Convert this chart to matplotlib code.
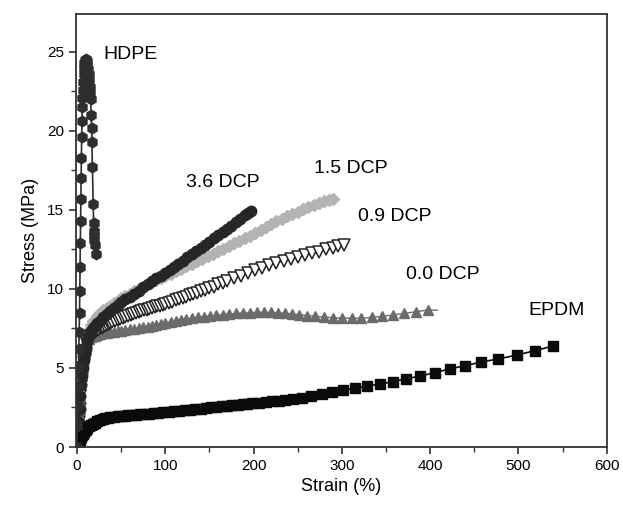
import matplotlib
matplotlib.use("Agg")
import matplotlib.pyplot as plt
from matplotlib.ticker import MultipleLocator

plt.rcParams['font.family'] = ['Liberation Sans', 'DejaVu Sans']

# HDPE (strain %, stress MPa)
hdpe_x = [0, 0.5, 1, 1.4, 1.8, 2.2, 2.6, 3.0, 3.3, 3.6, 3.9, 4.2, 4.5, 4.8, 5.1, 5.4, 5.7,
          6.0, 6.3, 6.6, 7.0, 7.5, 8.0, 8.6, 9.3, 10.0, 10.7, 11.4, 12.0, 12.6, 13.2, 13.8,
          14.4, 15.0, 15.6, 16.2, 16.6, 17.0, 17.6, 18.4, 19.0, 19.3, 19.6, 19.9, 20.3, 21.5]
hdpe_y = [0, 1.3, 2.6, 3.8, 5.0, 6.2, 7.3, 8.5, 9.9, 11.4, 12.9, 14.3, 15.7, 17.0, 18.3, 19.6, 20.6,
          21.5, 22.1, 22.6, 23.1, 23.6, 24.0, 24.3, 24.5, 24.55, 24.5, 24.4, 24.2, 23.9, 23.6, 23.2,
          22.8, 22.4, 22.0, 21.0, 20.2, 19.3, 17.7, 15.4, 14.2, 13.7, 13.4, 13.1, 12.8, 12.2]

# 3.6 DCP
dcp36_x = [0, 1, 2, 3, 4, 5, 6, 7, 8, 9, 10, 12, 14, 16, 18, 20, 23, 26, 30, 34, 38, 42, 46, 50,
           55, 60, 65, 70, 75, 80, 85, 90, 95, 100, 105, 110, 115, 120, 125, 130, 135, 140, 145,
           150, 155, 160, 165, 170, 175, 180, 185, 190, 194, 197]
dcp36_y = [0, 0.8, 1.6, 2.4, 3.2, 3.9, 4.5, 5.0, 5.5, 5.9, 6.2, 6.7, 7.0, 7.3, 7.5, 7.65, 7.85, 8.0,
           8.2, 8.4, 8.6, 8.8, 9.0, 9.15, 9.35, 9.5, 9.7, 9.9, 10.1, 10.3, 10.5, 10.7, 10.85, 11.0,
           11.2, 11.4, 11.6, 11.8, 12.0, 12.2, 12.4, 12.6, 12.8, 13.0, 13.2, 13.4, 13.6, 13.8, 14.0,
           14.25, 14.45, 14.65, 14.8, 14.95]

# 1.5 DCP
dcp15_x = [0, 1, 2, 3, 4, 5, 6, 7, 8, 9, 10, 12, 14, 16, 18, 20, 23, 26, 30, 34, 38, 42, 46, 50,
           55, 60, 65, 70, 75, 80, 85, 90, 95, 100, 106, 112, 118, 124, 130, 136, 142, 148, 154,
           160, 166, 172, 178, 184, 190, 196, 202, 208, 214, 220, 226, 232, 238, 244, 250, 256,
           262, 268, 274, 280, 285, 290]
dcp15_y = [0, 0.8, 1.6, 2.4, 3.2, 4.0, 4.6, 5.2, 5.7, 6.1, 6.5, 7.0, 7.4, 7.7, 7.95, 8.1, 8.3, 8.45,
           8.65, 8.8, 8.95, 9.1, 9.25, 9.4, 9.55, 9.7, 9.85, 10.0, 10.15, 10.3, 10.42, 10.55, 10.68,
           10.8, 10.97, 11.13, 11.29, 11.45, 11.6, 11.76, 11.92, 12.08, 12.24, 12.4, 12.56, 12.72,
           12.88, 13.04, 13.2, 13.38, 13.56, 13.74, 13.92, 14.1, 14.28, 14.45, 14.6, 14.75, 14.9,
           15.05, 15.2, 15.32, 15.44, 15.54, 15.6, 15.68]

# 0.9 DCP
dcp09_x = [0, 1, 2, 3, 4, 5, 6, 7, 8, 9, 10, 12, 14, 16, 18, 20, 22, 24, 26, 28, 30, 32, 34, 36,
           38, 40, 43, 46, 49, 52, 55, 58, 61, 64, 67, 70, 73, 76, 79, 82, 85, 88, 91, 94, 97, 100,
           104, 108, 112, 116, 120, 124, 128, 132, 136, 140, 145, 150, 155, 160, 165, 170, 178,
           186, 194, 202, 210, 218, 226, 234, 242, 250, 258, 266, 274, 282, 290, 296, 302]
dcp09_y = [0, 0.8, 1.6, 2.4, 3.2, 3.9, 4.5, 5.0, 5.4, 5.8, 6.1, 6.5, 6.8, 7.0, 7.15, 7.25, 7.35,
           7.42, 7.5, 7.55, 7.6, 7.65, 7.72, 7.8, 7.85, 7.9, 7.98, 8.05, 8.12, 8.18, 8.24, 8.3,
           8.36, 8.42, 8.48, 8.55, 8.6, 8.65, 8.7, 8.75, 8.8, 8.85, 8.9, 8.95, 9.0, 9.05, 9.12,
           9.2, 9.28, 9.36, 9.44, 9.52, 9.6, 9.68, 9.76, 9.85, 9.95, 10.05, 10.15, 10.3, 10.4,
           10.5, 10.7, 10.85, 11.0, 11.2, 11.35, 11.5, 11.65, 11.8, 11.9, 12.0, 12.15, 12.25,
           12.35, 12.5, 12.6, 12.7, 12.8]

# 0.0 DCP
dcp00_x = [0, 1, 2, 3, 4, 5, 6, 7, 8, 9, 10, 12, 14, 16, 18, 20, 23, 26, 30, 34, 38, 42, 46, 50,
           55, 60, 65, 70, 75, 80, 85, 90, 95, 100, 106, 112, 118, 124, 130, 137, 144, 151, 158,
           165, 172, 180, 188, 196, 204, 212, 220, 228, 236, 244, 252, 261, 270, 280, 290, 300,
           311, 322, 334, 346, 358, 370, 384, 398, 408]
dcp00_y = [0, 0.8, 1.6, 2.4, 3.2, 3.9, 4.5, 5.0, 5.5, 5.9, 6.2, 6.6, 6.85, 6.95, 7.0, 7.05, 7.1,
           7.15, 7.2, 7.23, 7.27, 7.3, 7.33, 7.36, 7.4, 7.44, 7.48, 7.52, 7.57, 7.62, 7.68, 7.74,
           7.8, 7.86, 7.92, 7.98, 8.04, 8.1, 8.15, 8.2, 8.25, 8.3, 8.34, 8.38, 8.42, 8.45, 8.48,
           8.5, 8.52, 8.53, 8.52, 8.5, 8.46, 8.42, 8.37, 8.32, 8.27, 8.22, 8.18, 8.16, 8.15, 8.15,
           8.2, 8.27, 8.36, 8.45, 8.56, 8.68, 8.65]

# EPDM
epdm_x = [0, 1, 2, 3, 4, 5, 6, 7, 8, 10, 12, 14, 16, 18, 20, 23, 26, 29, 32, 35, 38, 42, 46, 50,
          54, 58, 62, 67, 72, 77, 82, 87, 92, 98, 104, 110, 116, 122, 128, 134, 140, 146, 152,
          158, 164, 170, 176, 182, 188, 193, 198.5, 206, 213.6, 221, 228.6, 236, 245, 255, 265.5,
          277, 289, 301, 314.5, 328, 343.5, 358, 372.5, 389, 405, 422, 440, 458, 477, 498, 519,
          539, 544]
epdm_y = [0, 0.15, 0.3, 0.45, 0.55, 0.65, 0.75, 0.85, 0.93, 1.07, 1.2, 1.3, 1.4, 1.48, 1.55, 1.63,
          1.7, 1.76, 1.81, 1.85, 1.88, 1.91, 1.94, 1.96, 1.98, 2.0, 2.02, 2.04, 2.06, 2.08, 2.1,
          2.13, 2.16, 2.2, 2.23, 2.26, 2.29, 2.33, 2.36, 2.4, 2.43, 2.47, 2.5, 2.54, 2.57, 2.6,
          2.63, 2.66, 2.7, 2.73, 2.76, 2.8, 2.84, 2.89, 2.94, 2.99, 3.04, 3.12, 3.23, 3.34, 3.48,
          3.61, 3.71, 3.86, 3.99, 4.13, 4.32, 4.49, 4.7, 4.94, 5.15, 5.38, 5.57, 5.82, 6.1, 6.39,
          6.42]

fig = plt.figure(figsize=(6.23, 5.09), dpi=100)
ax = fig.add_axes([0.122, 0.1218, 0.852, 0.8507])

ax.plot(dcp00_x, dcp00_y, '-^', color='#6b6b6b', mec='#6b6b6b', ms=7.5, lw=1,
        markevery=slice(0, -1))
ax.plot(dcp15_x, dcp15_y, '-D', color='#b3b3b3', mec='#b3b3b3', ms=6.5, lw=1)
ax.plot(dcp09_x, dcp09_y, '-v', color='#222222', mfc='white', mec='#222222', ms=8.5, mew=1.1, lw=1)
ax.plot(dcp36_x, dcp36_y, '-o', color='#262626', ms=7.5, lw=1)
ax.plot(epdm_x, epdm_y, '-s', color='#0a0a0a', ms=6.5, lw=1.2, markevery=slice(0, -1))
ax.plot(hdpe_x, hdpe_y, '-h', color='#2e2e2e', ms=7.5, lw=1.2)

fs = 14
ax.text(61, 24.84, 'HDPE', fontsize=fs, ha='center', va='center')
ax.text(165.5, 16.74, '3.6 DCP', fontsize=fs, ha='center', va='center')
ax.text(310, 17.63, '1.5 DCP', fontsize=fs, ha='center', va='center')
ax.text(360, 14.59, '0.9 DCP', fontsize=fs, ha='center', va='center')
ax.text(414, 10.92, '0.0 DCP', fontsize=fs, ha='center', va='center')
ax.text(543, 8.64, 'EPDM', fontsize=fs, ha='center', va='center')

ax.set_xlim(-1, 600)
ax.set_ylim(0, 27.4)
ax.xaxis.set_major_locator(MultipleLocator(100))
ax.xaxis.set_minor_locator(MultipleLocator(50))
ax.yaxis.set_major_locator(MultipleLocator(5))
ax.yaxis.set_minor_locator(MultipleLocator(2.5))
ax.tick_params(which='both', direction='out', top=False, right=False, labelsize=11,
               color='#333333')
ax.tick_params(which='major', length=5, width=1.2)
ax.tick_params(which='minor', length=3.5, width=1.0)
for s in ax.spines.values():
    s.set_linewidth(1.3)
    s.set_color('#333333')

ax.set_xlabel('Strain (%)', fontsize=13, labelpad=4)
ax.set_ylabel('Stress (MPa)', fontsize=13, labelpad=6)

fig.savefig('out.png', dpi=100)
